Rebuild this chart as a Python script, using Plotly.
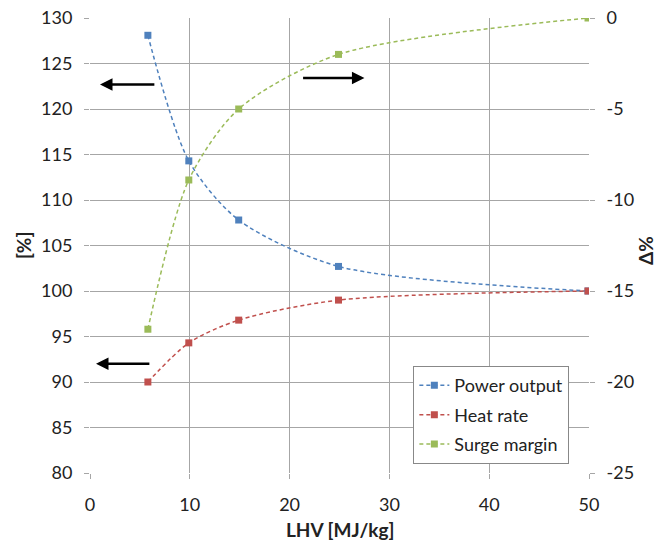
import plotly.graph_objects as go

# Fuel lower heating value [MJ/kg]
lhv = [5.8, 9.9, 14.9, 24.9, 49.9]

# Relative performance [%] (left axis)
power_output = [128.1, 114.3, 107.8, 102.7, 100.0]
heat_rate = [90.0, 94.3, 96.8, 99.0, 100.0]

# Surge margin change [Δ%] (right axis)
surge_margin = [-17.1, -8.9, -5.0, -2.0, 0.0]

# Right-axis tick labels
right_ticks = [0, -5, -10, -15, -20, -25]
right_labels = ["0", "-5", "-10", "-15", "-20", "-25"]

BLUE = "#4F81BD"
RED = "#C0504D"
GREEN = "#9BBB59"
GRID = "#A6A6A6"
FONT = "Lato, Open Sans, sans-serif"

fig = go.Figure()

def add_series(y, name, color, axis):
    fig.add_trace(go.Scatter(
        x=lhv, y=y, name=name, yaxis=axis, legendgroup=name,
        mode="lines+markers",
        line=dict(color=color, width=1.5, dash="4px,3px", shape="spline", smoothing=0.8),
        marker=dict(symbol="square", size=7, color=color),
    ))

add_series(power_output, "Power output", BLUE, "y")
add_series(heat_rate, "Heat rate", RED, "y")
add_series(surge_margin, "Surge margin", GREEN, "y2")

# Arrows indicating which axis each curve belongs to
arrows = [
    dict(x=1.0, y=122.7, ax=6.6, ay=122.7),
    dict(x=0.6, y=92.0, ax=6.1, ay=92.0),
    dict(x=27.5, y=123.4, ax=21.2, ay=123.4),
]
for a in arrows:
    fig.add_annotation(
        x=a["x"], y=a["y"], ax=a["ax"], ay=a["ay"],
        xref="x", yref="y", axref="x", ayref="y",
        showarrow=True, arrowhead=2, arrowsize=1, arrowwidth=2.5,
        arrowcolor="black", text="",
    )

# Axis titles
title_font = dict(family=FONT, size=19, color="#222222")
fig.add_annotation(text="<b>LHV [MJ/kg]</b>", xref="paper", yref="paper",
                   x=0.501, y=-0.125, xanchor="center", yanchor="middle",
                   showarrow=False, font=title_font)
fig.add_annotation(text="<b>[%]</b>", xref="paper", yref="paper",
                   x=-0.132, y=0.499, xanchor="center", yanchor="middle",
                   textangle=-90, showarrow=False, font=title_font)
fig.add_annotation(text="<b>Δ%</b>", xref="paper", yref="paper",
                   x=1.112, y=0.49, xanchor="center", yanchor="middle",
                   textangle=-90, showarrow=False, font=title_font)

fig.update_layout(
    width=662, height=543,
    margin=dict(l=90, r=73, t=18, b=70, autoexpand=False),
    paper_bgcolor="white", plot_bgcolor="white",
    font=dict(family=FONT, size=18, color="#222222"),
    showlegend=True,
    legend=dict(
        x=0.648, y=0.235, xanchor="left", yanchor="top",
        bgcolor="white", bordercolor="#888888", borderwidth=1,
        font=dict(size=18), tracegroupgap=3,
    ),
    xaxis=dict(
        range=[0, 50], dtick=10, showgrid=True, gridcolor=GRID, gridwidth=1,
        zeroline=False, showline=False, ticks="outside", ticklen=5, tickcolor=GRID,
        ticklabelstandoff=10, automargin=False,
    ),
    yaxis=dict(
        range=[80, 130], dtick=5, showgrid=True, gridcolor=GRID, gridwidth=1,
        zeroline=False, showline=False, ticks="outside", ticklen=5, tickcolor=GRID,
        ticklabelstandoff=8, automargin=False,
    ),
    yaxis2=dict(
        range=[-25, 0], tickvals=right_ticks, ticktext=right_labels,
        overlaying="y", side="right",
        showgrid=False, zeroline=False, showline=False,
        ticks="outside", ticklen=5, tickcolor=GRID, ticklabelstandoff=8,
        automargin=False,
    ),
)

fig.write_html("out.html")
